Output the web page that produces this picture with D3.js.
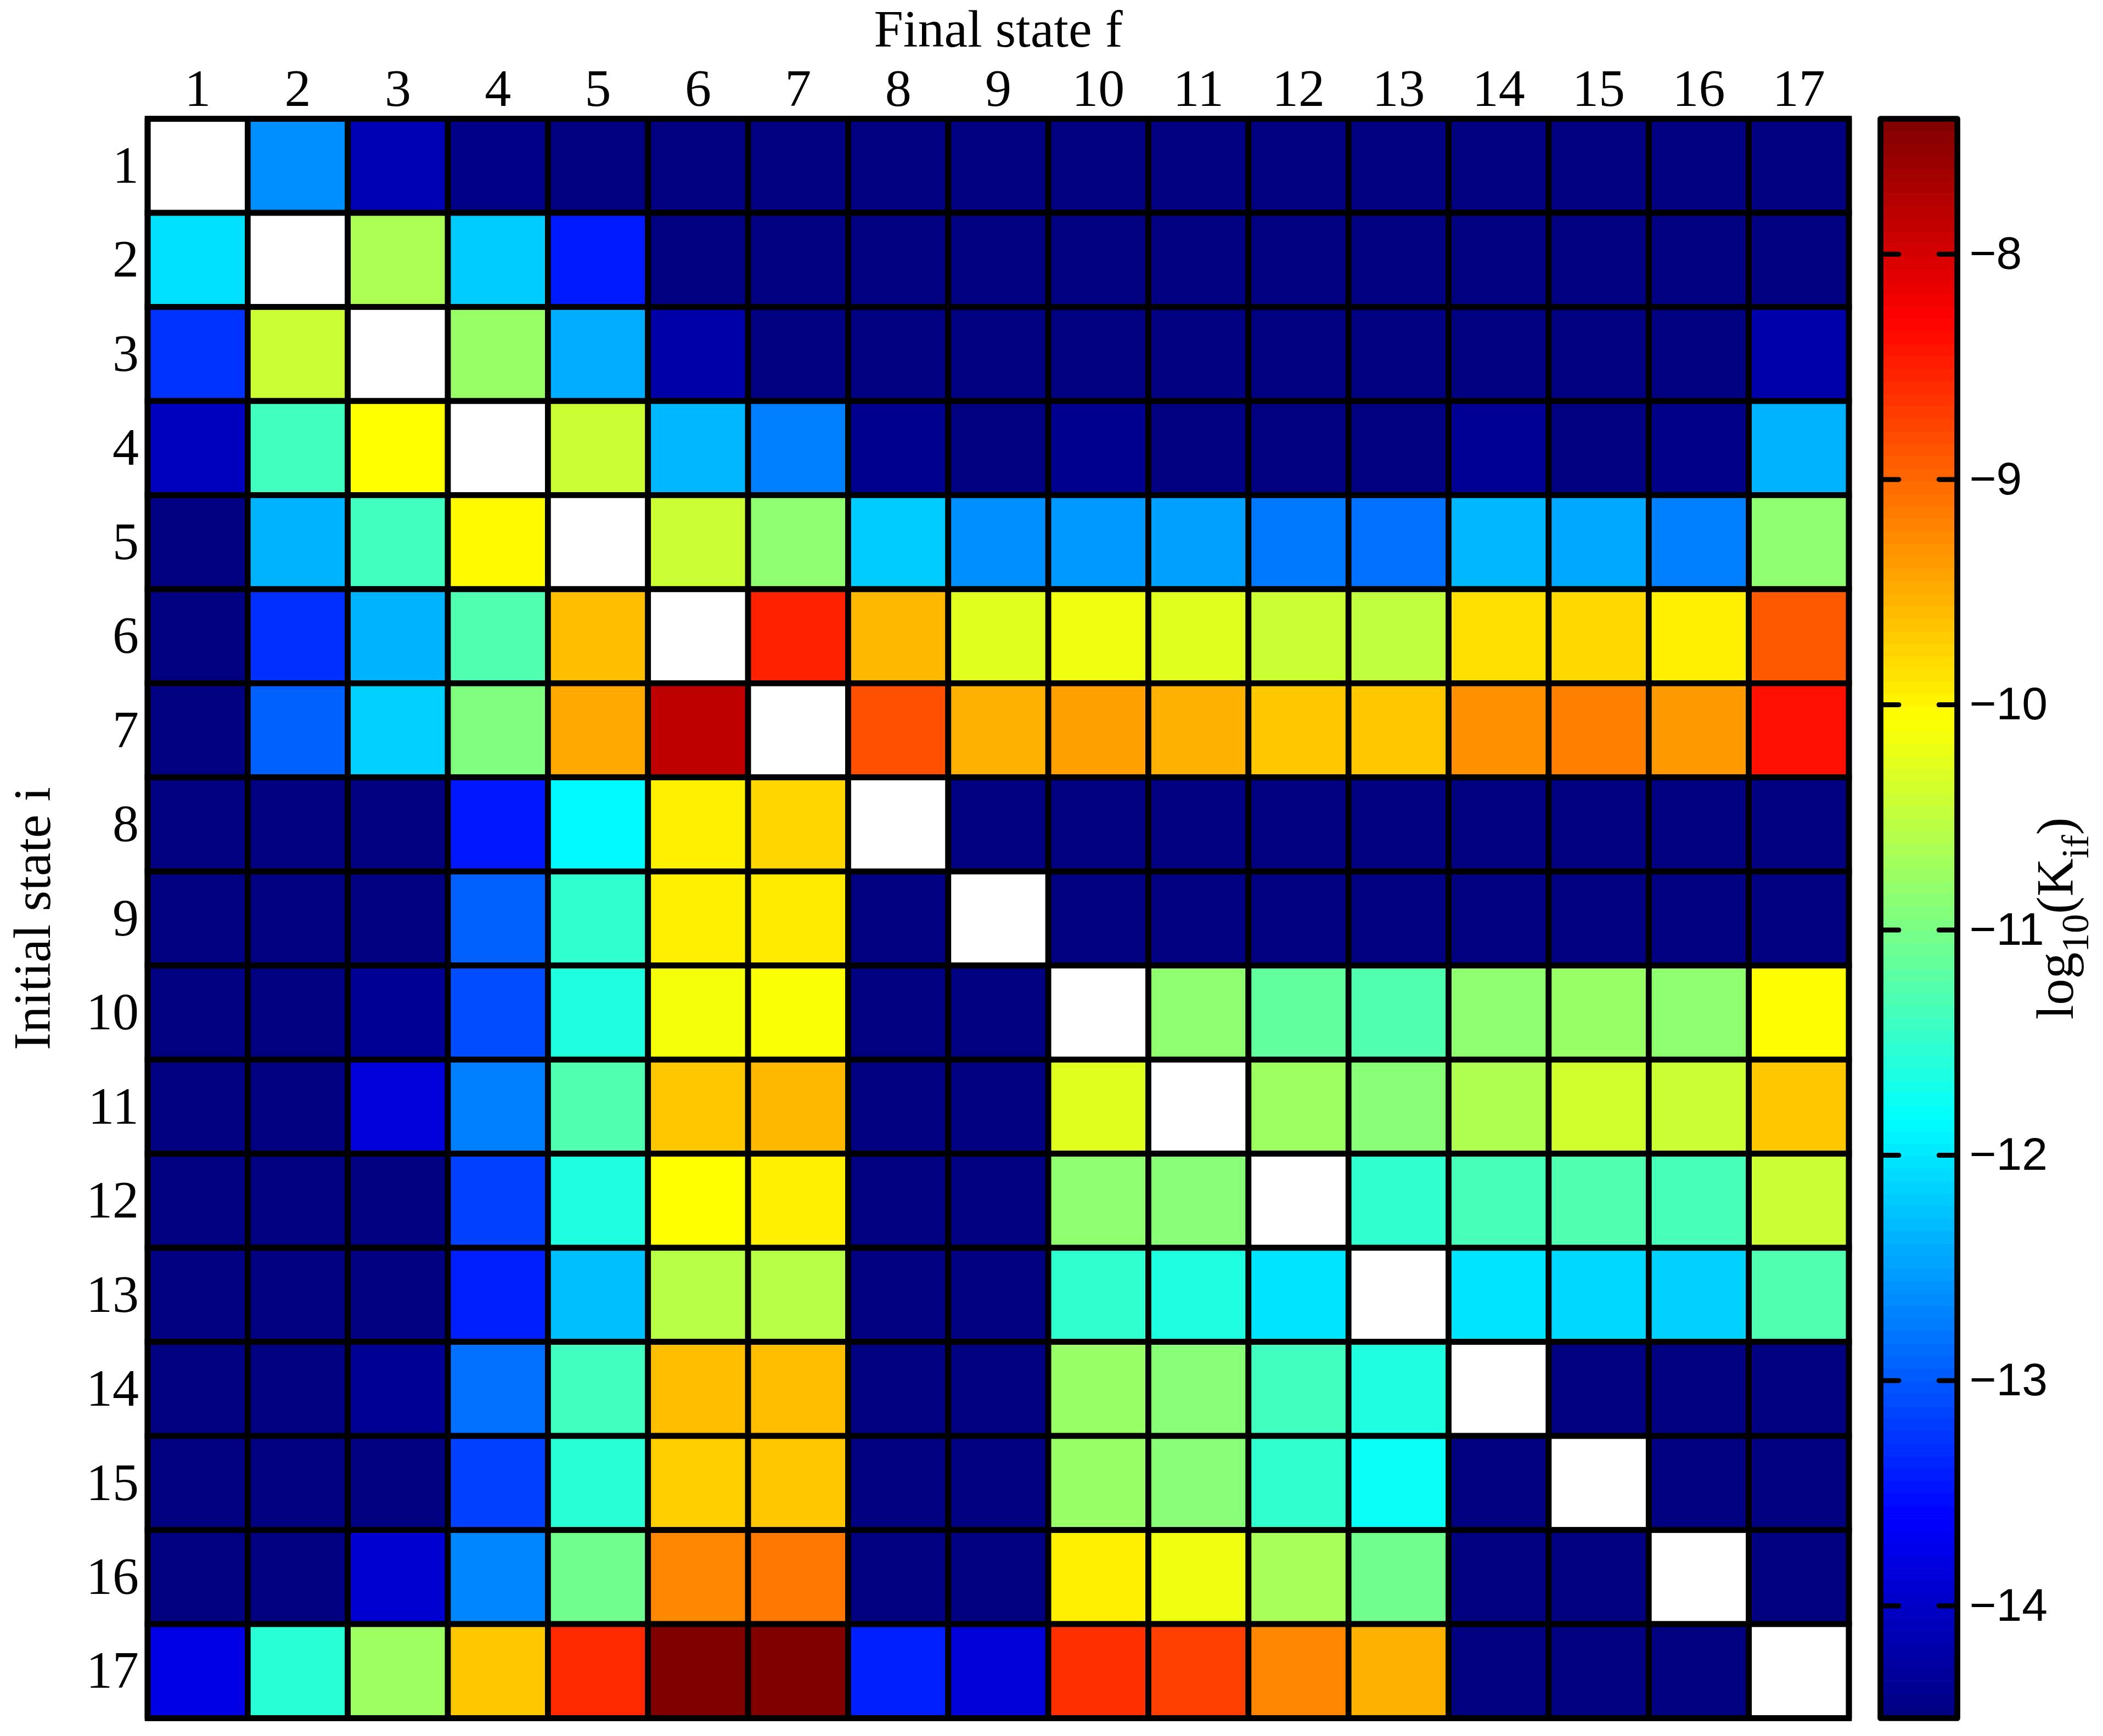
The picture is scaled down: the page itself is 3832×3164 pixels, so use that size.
<!DOCTYPE html>
<html>
<head>
<meta charset="utf-8">
<title>log10(Kif)</title>
<style>
body { margin: 0; background: #fff; }
.serif { font-family: "Liberation Serif", "Times New Roman", serif; }
.sans { font-family: "Liberation Sans", Arial, sans-serif; }
</style>
</head>
<body>
<script src="https://cdn.jsdelivr.net/npm/d3@7"></script>
<script>

// states on both axes
var states = [1, 2, 3, 4, 5, 6, 7, 8, 9, 10, 11, 12, 13, 14, 15, 16, 17];

// colour limits and colorbar ticks
var colorLimits = [-14.5, -7.4];
var colorTicks = [-8, -9, -10, -11, -12, -13, -14];

// log10(K_if), row = initial state i, column = final state f (null on the diagonal)
var logK = [
  [null, -12.62, -14.13, -14.45, -14.5, -14.5, -14.5, -14.5, -14.5, -14.5, -14.5, -14.5, -14.5, -14.5, -14.5, -14.5, -14.5],
  [-12.05, null, -10.65, -12.19, -13.43, -14.5, -14.5, -14.5, -14.5, -14.5, -14.5, -14.5, -14.5, -14.5, -14.5, -14.5, -14.5],
  [-13.26, -10.42, null, -10.77, -12.41, -14.22, -14.5, -14.5, -14.5, -14.5, -14.5, -14.5, -14.5, -14.5, -14.5, -14.5, -14.2],
  [-14.06, -11.39, -10.06, null, -10.42, -12.33, -12.73, -14.39, -14.5, -14.4, -14.5, -14.5, -14.5, -14.35, -14.5, -14.45, -12.37],
  [-14.5, -12.37, -11.39, -10.03, null, -10.42, -10.84, -12.19, -12.62, -12.55, -12.5, -12.78, -12.83, -12.33, -12.44, -12.73, -10.84],
  [-14.5, -13.28, -12.37, -11.28, -9.62, null, -8.51, -9.57, -10.27, -10.17, -10.27, -10.42, -10.51, -9.85, -9.8, -9.95, -8.91],
  [-14.5, -12.94, -12.16, -10.95, -9.46, -7.84, null, -8.84, -9.51, -9.4, -9.51, -9.67, -9.67, -9.29, -9.18, -9.35, -8.4],
  [-14.5, -14.5, -14.5, -13.45, -11.87, -9.95, -9.78, null, -14.5, -14.5, -14.5, -14.5, -14.5, -14.5, -14.5, -14.5, -14.5],
  [-14.5, -14.5, -14.5, -12.94, -11.5, -9.95, -9.92, -14.5, null, -14.5, -14.5, -14.5, -14.5, -14.5, -14.5, -14.5, -14.5],
  [-14.5, -14.5, -14.35, -13.08, -11.62, -10.13, -10.1, -14.5, -14.5, null, -10.84, -11.16, -11.28, -10.84, -10.77, -10.84, -10.05],
  [-14.5, -14.5, -13.86, -12.73, -11.28, -9.67, -9.57, -14.5, -14.5, -10.27, null, -10.74, -10.89, -10.62, -10.38, -10.42, -9.67],
  [-14.5, -14.5, -14.5, -13.17, -11.62, -10.06, -9.95, -14.5, -14.5, -10.84, -10.89, null, -11.5, -11.34, -11.28, -11.34, -10.42],
  [-14.5, -14.5, -14.5, -13.4, -12.28, -10.56, -10.56, -14.5, -14.5, -11.5, -11.62, -12.02, null, -12.02, -12.11, -12.16, -11.28],
  [-14.5, -14.5, -14.35, -12.83, -11.39, -9.62, -9.62, -14.5, -14.5, -10.77, -10.89, -11.39, -11.62, null, -14.5, -14.5, -14.5],
  [-14.5, -14.5, -14.5, -13.17, -11.55, -9.73, -9.67, -14.5, -14.5, -10.77, -10.89, -11.5, -11.78, -14.5, null, -14.5, -14.5],
  [-14.5, -14.5, -13.93, -12.67, -11.06, -9.23, -9.12, -14.5, -14.5, -9.95, -10.17, -10.67, -11.06, -14.5, -14.5, null, -14.5],
  [-13.79, -11.55, -10.74, -9.67, -8.57, -7.4, -7.4, -13.4, -13.88, -8.62, -8.73, -9.23, -9.51, -14.5, -14.5, -14.5, null]
];

var width = 3832,
    height = 3164;

var plot = {left: 269, right: 3369, top: 216.5, bottom: 3131.5};
var bar = {left: 3426.5, right: 3566.5};
var lineW = 10.7;

// matlab jet colormap
function jet(t) {
  t = Math.max(0, Math.min(1, t));
  var c = function(v) { return Math.round(255 * Math.max(0, Math.min(1, v))); };
  return d3.rgb(c(1.5 - Math.abs(4 * t - 3)), c(1.5 - Math.abs(4 * t - 2)), c(1.5 - Math.abs(4 * t - 1))) + "";
}

var color = d3.scaleSequential(jet).domain(colorLimits).clamp(true);

var x = d3.scaleBand().domain(states).range([plot.left, plot.right]);
var y = d3.scaleBand().domain(states).range([plot.top, plot.bottom]);

var svg = d3.select("body").append("svg")
    .attr("width", width)
    .attr("height", height);

// flatten matrix into cells
var cells = [];
logK.forEach(function(row, i) {
  row.forEach(function(v, j) {
    cells.push({i: states[i], f: states[j], value: v});
  });
});

svg.append("g")
    .selectAll("rect")
    .data(cells)
    .enter()
    .append("rect")
    .attr("x", function(d) { return x(d.f); })
    .attr("y", function(d) { return y(d.i); })
    .attr("width", x.bandwidth())
    .attr("height", y.bandwidth())
    .attr("fill", function(d) { return d.value == null ? "#fff" : color(d.value); })
    .attr("stroke", "#000")
    .attr("stroke-width", lineW);

// outer box
svg.append("rect")
    .attr("x", plot.left)
    .attr("y", plot.top)
    .attr("width", plot.right - plot.left)
    .attr("height", plot.bottom - plot.top)
    .attr("fill", "none")
    .attr("stroke", "#000")
    .attr("stroke-width", lineW)
    .attr("stroke-linejoin", "round");

// column labels (top)
var xAxis = svg.append("g")
    .attr("class", "serif")
    .attr("transform", "translate(0," + plot.top + ")")
    .call(d3.axisTop(x).tickSize(0).tickPadding(23.5));
xAxis.select(".domain").remove();
xAxis.selectAll("text")
    .attr("fill", "#000")
    .style("font-size", "96px");

// row labels (left)
var yAxis = svg.append("g")
    .attr("class", "serif")
    .attr("transform", "translate(" + plot.left + ",0)")
    .call(d3.axisLeft(y).tickSize(0).tickPadding(16));
yAxis.select(".domain").remove();
yAxis.selectAll("text")
    .attr("fill", "#000")
    .style("font-size", "96px");

// axis titles
svg.append("text")
    .attr("class", "serif")
    .attr("x", (plot.left + plot.right) / 2)
    .attr("y", 85)
    .attr("text-anchor", "middle")
    .style("font-size", "96px")
    .text("Final state f");

svg.append("text")
    .attr("class", "serif")
    .attr("transform", "translate(91," + (plot.top + plot.bottom) / 2 + ") rotate(-90)")
    .attr("text-anchor", "middle")
    .style("font-size", "96px")
    .text("Initial state i");

// colorbar
var cScale = d3.scaleLinear().domain(colorLimits).range([plot.bottom, plot.top]);
var nLevels = 128;
var levels = d3.range(nLevels).map(function(k) {
  var lo = colorLimits[0] + (colorLimits[1] - colorLimits[0]) * k / nLevels;
  var hi = colorLimits[0] + (colorLimits[1] - colorLimits[0]) * (k + 1) / nLevels;
  return {lo: lo, hi: hi, mid: (lo + hi) / 2};
});

svg.append("g")
    .selectAll("rect")
    .data(levels)
    .enter()
    .append("rect")
    .attr("x", bar.left)
    .attr("width", bar.right - bar.left)
    .attr("y", function(d) { return cScale(d.hi); })
    .attr("height", function(d) { return cScale(d.lo) - cScale(d.hi) + 0.6; })
    .attr("fill", function(d) { return color(d.mid); });

// inner ticks on both sides
var barRight = svg.append("g")
    .attr("class", "sans")
    .attr("transform", "translate(" + bar.right + ",0)")
    .call(d3.axisRight(cScale).tickValues(colorTicks).tickSize(-(28 + lineW / 2)).tickPadding(22));
barRight.select(".domain").remove();
barRight.selectAll("line")
    .attr("stroke", "#000")
    .attr("stroke-width", 9)
    .attr("stroke-linecap", "round");
barRight.selectAll("text")
    .attr("fill", "#000")
    .style("font-size", "84px");

var barLeft = svg.append("g")
    .attr("transform", "translate(" + bar.left + ",0)")
    .call(d3.axisLeft(cScale).tickValues(colorTicks).tickSize(-(28 + lineW / 2)).tickFormat(""));
barLeft.select(".domain").remove();
barLeft.selectAll("line")
    .attr("stroke", "#000")
    .attr("stroke-width", 9)
    .attr("stroke-linecap", "round");

svg.append("rect")
    .attr("x", bar.left)
    .attr("y", plot.top)
    .attr("width", bar.right - bar.left)
    .attr("height", plot.bottom - plot.top)
    .attr("fill", "none")
    .attr("stroke", "#000")
    .attr("stroke-width", lineW)
    .attr("stroke-linejoin", "round");

// colorbar label log10(K_if)
var cLabel = svg.append("text")
    .attr("class", "serif")
    .attr("transform", "translate(3777," + (plot.top + plot.bottom) / 2 + ") rotate(-90)")
    .attr("text-anchor", "middle")
    .style("font-size", "96px");
cLabel.append("tspan").text("log");
cLabel.append("tspan").attr("dy", 28).style("font-size", "70px").text("10");
cLabel.append("tspan").attr("dy", -28).text("(K");
cLabel.append("tspan").attr("dy", 28).style("font-size", "70px").text("if");
cLabel.append("tspan").attr("dy", -28).text(")");

</script>
</body>
</html>
